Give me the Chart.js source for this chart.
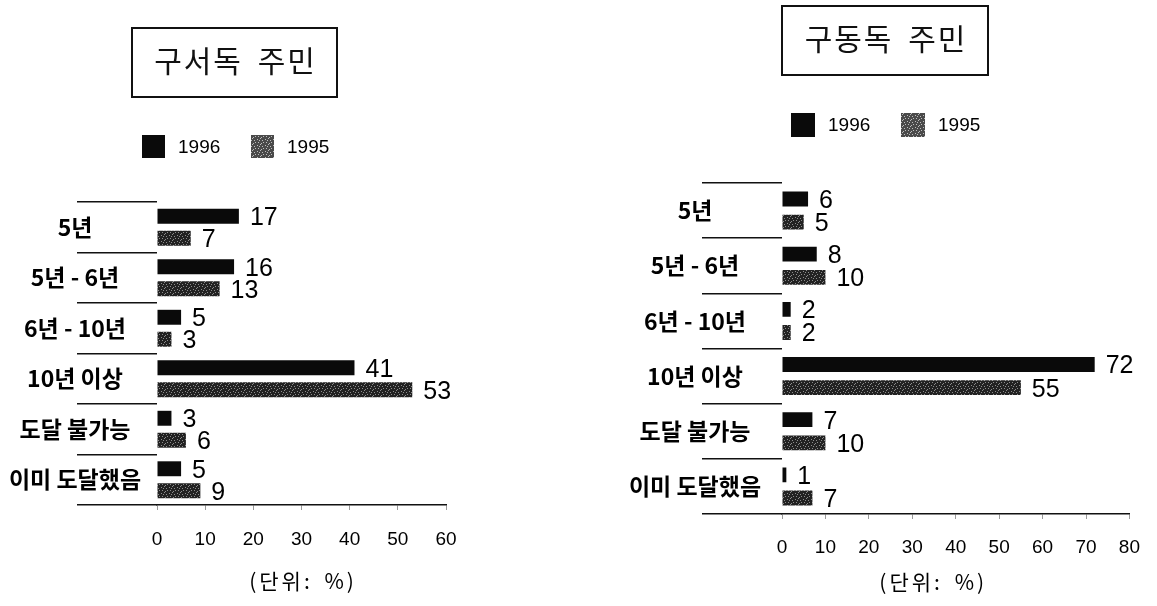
<!DOCTYPE html>
<html>
<head>
<meta charset="utf-8">
<script src="https://cdn.jsdelivr.net/npm/chart.js@4.4.1/dist/chart.umd.min.js"></script>
<style>
  html, body { margin: 0; padding: 0; background: #fff; }
  #wrap { position: relative; width: 1157px; height: 606px; overflow: hidden; }
  canvas { position: absolute; top: 0; }
  #west { left: 0; }
  #east { left: 578px; }
</style>
</head>
<body>
<div id="wrap">
  <canvas id="west" width="578" height="606"></canvas>
  <canvas id="east" width="579" height="606"></canvas>
</div>
<script>
// ---- data ----
const categories = ['5년', '5년 - 6년', '6년 - 10년', '10년 이상', '도달 불가능', '이미 도달했음'];
const seriesNames = ['1996', '1995'];
const westTitle = '구서독 주민';
const eastTitle = '구동독 주민';
const west1996 = [17, 16, 5, 41, 3, 5];
const west1995 = [7, 13, 3, 53, 6, 9];
const east1996 = [6, 8, 2, 72, 7, 1];
const east1995 = [5, 10, 2, 55, 10, 7];
const westAxisMax = 60;
const eastAxisMax = 80;
const tickStep = 10;
const unitText = '(단위: %)';

// ---- styling ----
const KR = "'Noto Sans CJK KR', 'Noto Sans', sans-serif";
const NUM = "'Liberation Sans', Arial, sans-serif";
const CAT_FONT = { family: KR, size: 23, weight: 'bold' };

// speckled fill used for the 1995 series
function speckle(base, dot) {
  const c = document.createElement('canvas');
  c.width = 8; c.height = 6;
  const g = c.getContext('2d');
  g.fillStyle = base;
  g.fillRect(0, 0, 8, 6);
  g.fillStyle = dot;
  [[1, 1], [4, 0], [6, 2], [2, 4], [5, 5], [7, 4], [3, 2]].forEach(([x, y]) => g.fillRect(x, y, 1, 1));
  return g.createPattern(c, 'repeat');
}
const barBlack = '#0a0a0a';
const barGrey = speckle('#222', '#8c8c8c');
const legendGrey = speckle('#4a4a4a', '#bdbdbd');

// widest category label, so the labels can be centred in the label column
function widestLabel() {
  const g = document.createElement('canvas').getContext('2d');
  g.font = `bold ${CAT_FONT.size}px ${KR}`;
  return Math.max(...categories.map(c => g.measureText(c).width));
}
const WIDEST = widestLabel();

// value labels at the end of each bar
const valueLabels = {
  id: 'valueLabels',
  afterDatasetsDraw(chart) {
    const ctx = chart.ctx;
    ctx.save();
    ctx.font = `25px ${NUM}`;
    ctx.fillStyle = '#000';
    ctx.textAlign = 'left';
    ctx.textBaseline = 'middle';
    chart.data.datasets.forEach((ds, di) => {
      chart.getDatasetMeta(di).data.forEach((bar, i) => {
        ctx.fillText(String(ds.data[i]), bar.x + 11, bar.y + 2);
      });
    });
    ctx.restore();
  }
};

// boxed title, legend and unit note
const decor = {
  id: 'decor',
  afterDraw(chart, args, o) {
    const ctx = chart.ctx;
    ctx.save();
    // title box
    const b = o.box;
    ctx.strokeStyle = '#111';
    ctx.lineWidth = 2;
    ctx.strokeRect(b.x, b.y, b.w, b.h);
    ctx.fillStyle = '#111';
    ctx.font = `30px ${KR}`;
    ctx.letterSpacing = '2px';
    ctx.wordSpacing = '6px';
    ctx.textAlign = 'center';
    ctx.textBaseline = 'middle';
    ctx.fillText(o.title, b.x + b.w / 2 + 1, b.y + b.h / 2 - 2);
    // legend
    ctx.letterSpacing = '0px';
    ctx.wordSpacing = '0px';
    ctx.font = `19px ${NUM}`;
    ctx.textAlign = 'left';
    chart.data.datasets.forEach((ds, i) => {
      const x = o.legend.xs[i];
      const y = o.legend.y;
      const s = o.legend.size;
      ctx.fillStyle = i === 0 ? barBlack : legendGrey;
      ctx.fillRect(x, y, s, s);
      ctx.fillStyle = '#000';
      ctx.fillText(ds.label, x + s + 13, y + s / 2 + 1);
    });
    // unit note under the axis
    const ca = chart.chartArea;
    ctx.font = `21px ${KR}`;
    ctx.letterSpacing = '3px';
    ctx.wordSpacing = '4px';
    ctx.textAlign = 'center';
    ctx.fillText(unitText, (ca.left + ca.right) / 2 + o.unit.dx + 1.5, o.unit.y);
    ctx.restore();
  }
};

function makeChart(id, s) {
  const canvas = document.getElementById(id);
  return new Chart(canvas, {
    type: 'bar',
    data: {
      labels: categories,
      datasets: [
        { label: seriesNames[0], data: s.a, backgroundColor: barBlack,
          barPercentage: s.bp, categoryPercentage: s.cp },
        { label: seriesNames[1], data: s.b, backgroundColor: barGrey,
          barPercentage: s.bp, categoryPercentage: s.cp }
      ]
    },
    options: {
      indexAxis: 'y',
      responsive: false,
      animation: false,
      devicePixelRatio: 1,
      layout: { padding: { left: 0, top: s.top, right: s.right, bottom: 0 } },
      scales: {
        x: {
          min: 0, max: s.max,
          ticks: { stepSize: tickStep, color: '#000', font: { family: NUM, size: 19 }, padding: s.tickPad },
          grid: { drawOnChartArea: false, tickLength: 5, color: '#9a9a9a', lineWidth: 1 },
          border: { display: true, color: '#111', width: 1.5 },
          afterFit(scale) { scale.height = s.xh; }
        },
        y: {
          ticks: {
            color: '#000', font: CAT_FONT, crossAlign: 'center',
            padding: s.labelCenter - 80 - WIDEST / 2
          },
          grid: { drawOnChartArea: false, offset: true, tickLength: 80, color: '#111', lineWidth: 1.5 },
          border: { display: false },
          afterFit(scale) { scale.width = s.yw; }
        }
      },
      plugins: {
        legend: { display: false },
        tooltip: { enabled: false },
        decor: { title: s.title, box: s.box, legend: s.legend, unit: s.unit }
      }
    },
    plugins: [valueLabels, decor]
  });
}

makeChart('west', {
  a: west1996, b: west1995, max: westAxisMax, title: westTitle,
  top: 202, right: 132, xh: 101, yw: 157, labelCenter: 82,
  bp: 0.68, cp: 0.87, tickPad: 18,
  box: { x: 132, y: 28, w: 205, h: 69 },
  legend: { xs: [142, 251], y: 135, size: 23 },
  unit: { dx: 0, y: 581 }
});

makeChart('east', {
  a: east1996, b: east1995, max: eastAxisMax, title: eastTitle,
  top: 183, right: 27, xh: 92, yw: 204, labelCenter: 87,
  bp: 0.64, cp: 0.84, tickPad: 17,
  box: { x: 204, y: 6, w: 206, h: 69 },
  legend: { xs: [213, 323], y: 113, size: 24 },
  unit: { dx: -24, y: 582 }
});
</script>
</body>
</html>
